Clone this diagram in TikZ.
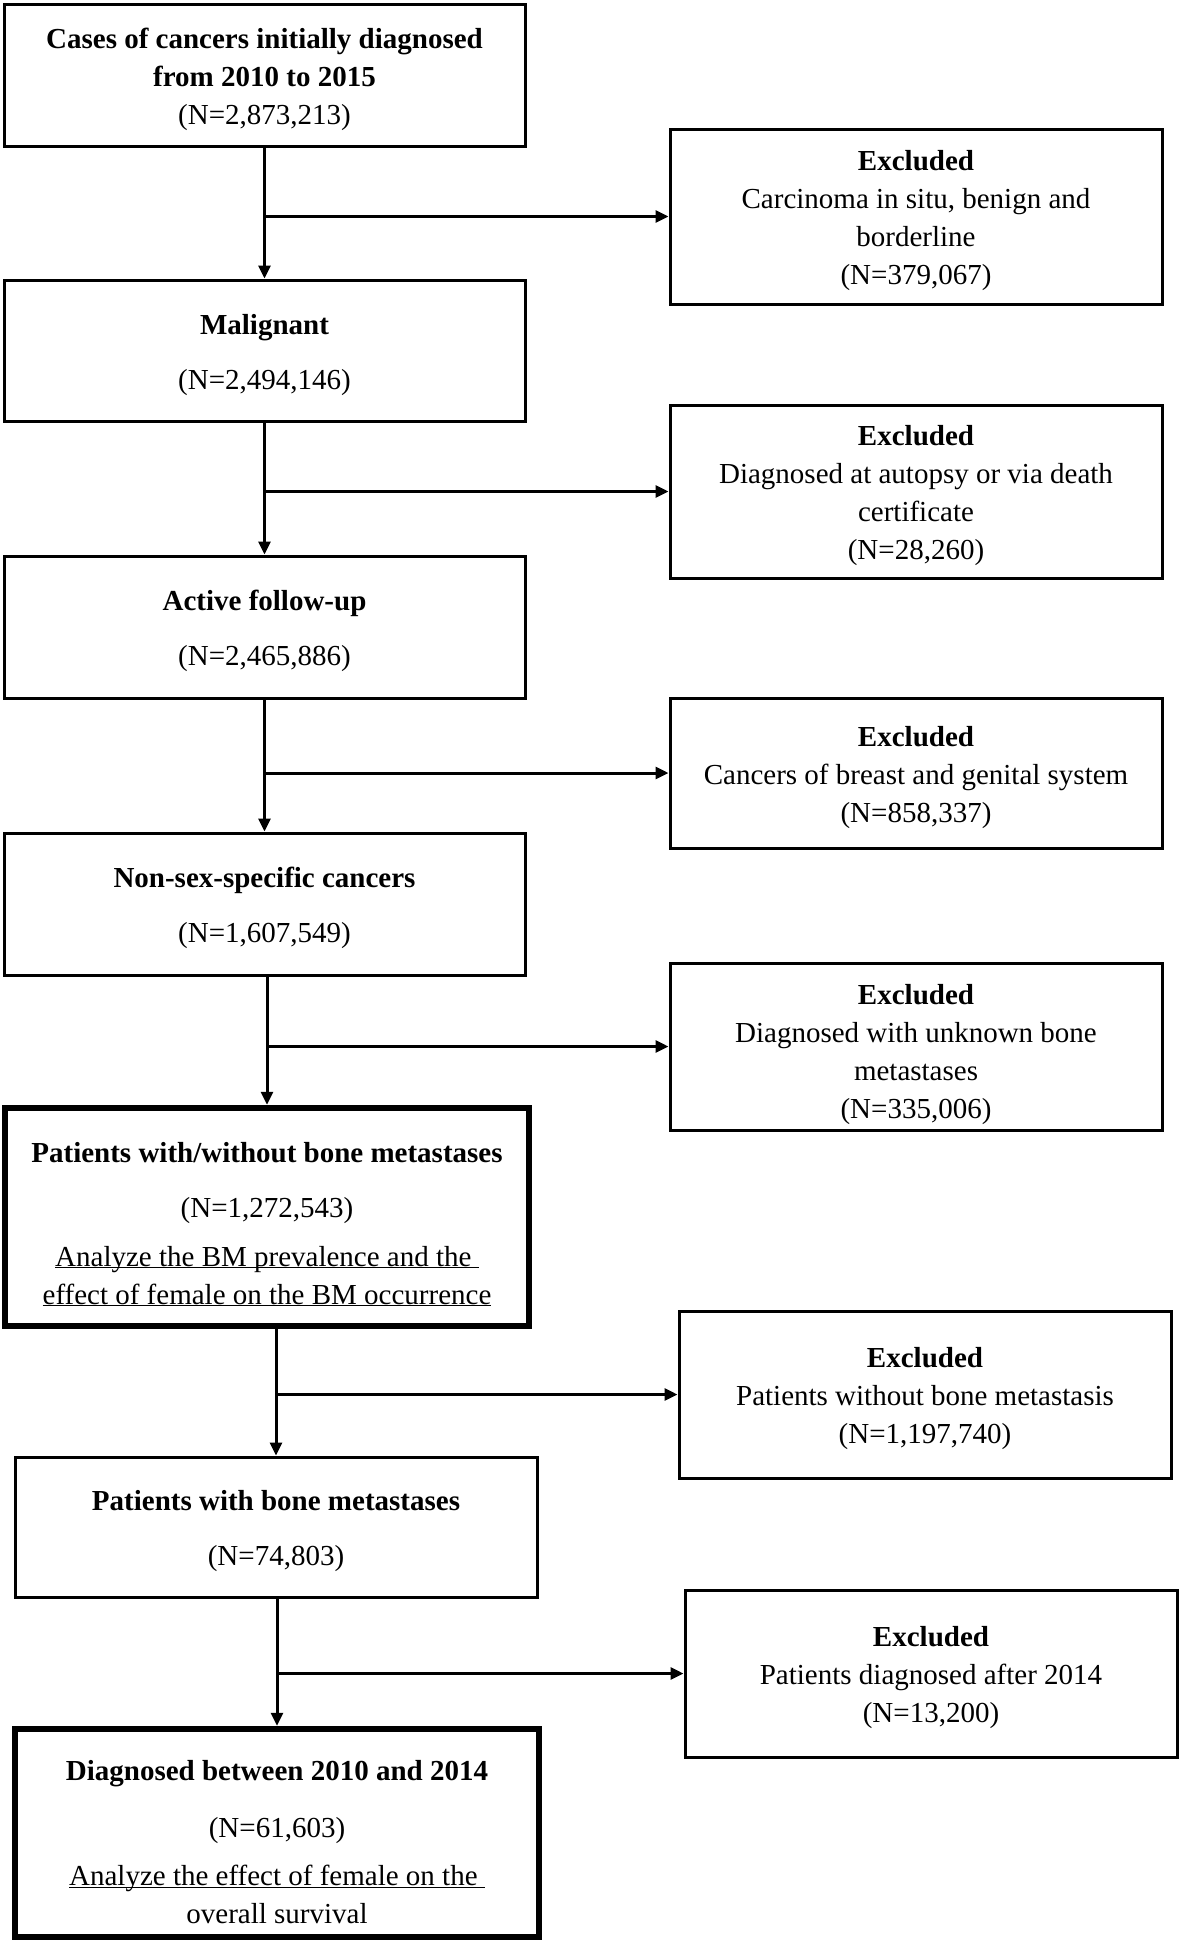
\documentclass[tikz,border=0pt]{standalone}
\usepackage{fontspec}
\setmainfont{Liberation Serif}
\usetikzlibrary{arrows.meta}
\newcommand{\fstrut}[1][29pt]{\rule{0pt}{#1}}
\begin{document}
\begin{tikzpicture}[x=1pt,y=-1pt,
  box/.style={draw, line width=3pt, rectangle, inner sep=0pt, align=center,
    font=\fontsize{29}{38}\selectfont},
  thickbox/.style={box, line width=6.5pt},
  arr/.style={line width=3pt, -{Triangle[length=13pt,width=12pt]}},
]
\useasboundingbox[fill=white] (0,0) rectangle (1181,1944);

% main column
\node[box, minimum width=521, minimum height=142] (n1) at (264.5,75)
  {\fstrut\textbf{Cases of cancers initially diagnosed}\\\textbf{from 2010 to 2015}\\(N=2,873,213)};
\node[box, minimum width=521, minimum height=141] (n2) at (264.5,350.5)
  {\fstrut\textbf{Malignant}\\[17pt](N=2,494,146)};
\node[box, minimum width=521, minimum height=142] (n3) at (264.5,627)
  {\fstrut\textbf{Active follow-up}\\[17pt](N=2,465,886)};
\node[box, minimum width=521, minimum height=142] (n4) at (264.5,904)
  {\fstrut\textbf{Non-sex-specific cancers}\\[17pt](N=1,607,549)};
\node[thickbox, minimum width=524, minimum height=218] (n5) at (267,1217)
  {\fstrut[34pt]\textbf{Patients with/without bone metastases}\\[17pt](N=1,272,543)\\[11pt]%
   \underline{\smash{Analyze the BM prevalence and the\ }}\\%
   \underline{\smash{effect of female on the BM occurrence}}};
\node[box, minimum width=522, minimum height=140] (n6) at (276,1527)
  {\fstrut\textbf{Patients with bone metastases}\\[17pt](N=74,803)};
\node[thickbox, minimum width=524, minimum height=208] (n7) at (277,1833)
  {\fstrut[39pt]\textbf{Diagnosed between 2010 and 2014}\\[19pt](N=61,603)\\[10pt]%
   \underline{\smash{Analyze the effect of female on the\ }}\\overall survival};

% excluded column
\node[box, minimum width=492, minimum height=175] (e1) at (916,216.5)
  {\fstrut\textbf{Excluded}\\Carcinoma in situ, benign and\\borderline\\(N=379,067)};
\node[box, minimum width=492, minimum height=173] (e2) at (916,491.5)
  {\fstrut\textbf{Excluded}\\Diagnosed at autopsy or via death\\certificate\\(N=28,260)};
\node[box, minimum width=492, minimum height=150] (e3) at (916,773)
  {\fstrut\textbf{Excluded}\\Cancers of breast and genital system\\(N=858,337)};
\node[box, minimum width=492, minimum height=167] (e4) at (916,1046.5)
  {\fstrut[36pt]\textbf{Excluded}\\Diagnosed with unknown bone\\metastases\\(N=335,006)};
\node[box, minimum width=492, minimum height=167] (e5) at (925,1394.5)
  {\fstrut\textbf{Excluded}\\Patients without bone metastasis\\(N=1,197,740)};
\node[box, minimum width=492, minimum height=167] (e6) at (931,1673.5)
  {\fstrut\textbf{Excluded}\\Patients diagnosed after 2014\\(N=13,200)};

% vertical connectors
\draw[arr] (n1.south -| n2.north) -- (n2.north);
\draw[arr] (n2.south -| n3.north) -- (n3.north);
\draw[arr] (n3.south -| n4.north) -- (n4.north);
\draw[arr] (n4.south -| n5.north) -- (n5.north);
\draw[arr] (n5.south -| n6.north) -- (n6.north);
\draw[arr] (n6.south -| n7.north) -- (n7.north);

% branch connectors
\draw[arr] (n2.north |- e1.west) -- (e1.west);
\draw[arr] (n3.north |- e2.west) -- (e2.west);
\draw[arr] (n4.north |- e3.west) -- (e3.west);
\draw[arr] (n5.north |- e4.west) -- (e4.west);
\draw[arr] (n6.north |- e5.west) -- (e5.west);
\draw[arr] (n7.north |- e6.west) -- (e6.west);
\end{tikzpicture}
\end{document}
